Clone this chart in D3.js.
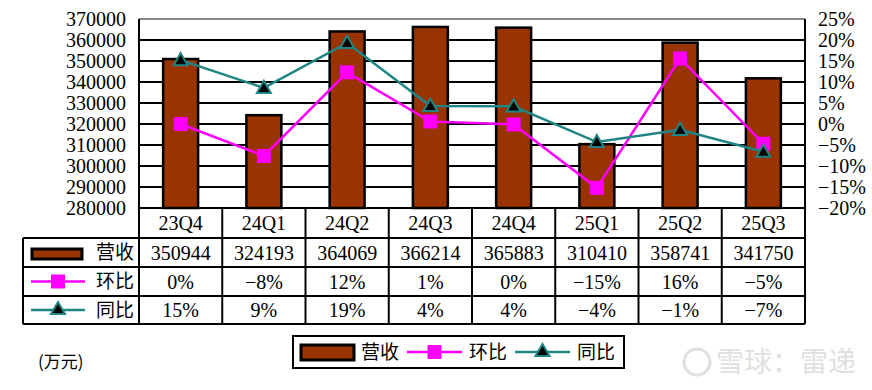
<!DOCTYPE html>
<html>
<head>
<meta charset="utf-8">
<script src="https://cdn.jsdelivr.net/npm/d3@7"></script>
<style>
  body { margin: 0; background: #fff; }
  text { font-family: "Liberation Serif", "Noto Sans CJK SC", serif; }
</style>
</head>
<body>
<script>
'use strict';

const categories = ["23Q4", "24Q1", "24Q2", "24Q3", "24Q4", "25Q1", "25Q2", "25Q3"];
const revenue = [350944, 324193, 364069, 366214, 365883, 310410, 358741, 341750];
// 环比 / 同比 as plotted (fractions)
const qoq = [0.000, -0.076, 0.123, 0.006, -0.001, -0.152, 0.156, -0.047];
const yoy = [0.152, 0.086, 0.193, 0.043, 0.042, -0.043, -0.014, -0.066];
// table text
const qoqLabels = ["0%", "−8%", "12%", "1%", "0%", "−15%", "16%", "−5%"];
const yoyLabels = ["15%", "9%", "19%", "4%", "4%", "−4%", "−1%", "−7%"];
const leftTicks = [280000, 290000, 300000, 310000, 320000, 330000, 340000, 350000, 360000, 370000];
const rightTicks = [-0.20, -0.15, -0.10, -0.05, 0, 0.05, 0.10, 0.15, 0.20, 0.25];

(function() {
  const W = 872, H = 390;
  const pL = 139, pR = 805, pT = 19, pB = 208;
  const barColor = "#993300", qoqColor = "#ff00ff", yoyColor = "#1f8585";
  const fs = "20px";

  const svg = d3.select("body").append("svg")
    .attr("width", W).attr("height", H);

  const x = d3.scaleBand().domain(categories).range([pL, pR]);
  const yL = d3.scaleLinear().domain([280000, 370000]).range([pB, pT]);
  const yR = d3.scaleLinear().domain([-0.20, 0.25]).range([pB, pT]);
  const cx = d => x(d) + x.bandwidth() / 2;

  // gridlines
  svg.append("g").selectAll("line")
    .data(leftTicks.slice(1))
    .enter().append("line")
      .attr("x1", pL).attr("x2", pR)
      .attr("y1", d => yL(d)).attr("y2", d => yL(d))
      .attr("stroke", d => d === 370000 ? "#888" : "#000")
      .attr("stroke-width", 2);

  // axes
  const gl = svg.append("g")
    .attr("transform", `translate(${pL},0)`)
    .call(d3.axisLeft(yL).tickValues(leftTicks).tickSize(0).tickPadding(13)
      .tickFormat(d3.format("d")));
  gl.select(".domain").remove();
  gl.selectAll("text").style("font-size", fs).attr("fill", "#000")
    .style("font-family", "'Liberation Serif', serif");

  const gr = svg.append("g")
    .attr("transform", `translate(${pR},0)`)
    .call(d3.axisRight(yR).tickValues(rightTicks).tickSize(0).tickPadding(13)
      .tickFormat(d3.format(".0%")));
  gr.select(".domain").remove();
  gr.selectAll("text").style("font-size", fs).attr("fill", "#000")
    .style("font-family", "'Liberation Serif', serif");

  // plot side borders
  svg.append("line").attr("x1", pL).attr("x2", pL).attr("y1", pT).attr("y2", pB)
    .attr("stroke", "#000").attr("stroke-width", 2);
  svg.append("line").attr("x1", pR).attr("x2", pR).attr("y1", pT).attr("y2", pB)
    .attr("stroke", "#000").attr("stroke-width", 2);

  // bars
  const bw = x.bandwidth() * 0.42;
  svg.append("g").selectAll("rect")
    .data(categories)
    .enter().append("rect")
      .attr("x", d => cx(d) - bw / 2)
      .attr("y", (d, i) => yL(revenue[i]))
      .attr("width", bw)
      .attr("height", (d, i) => pB - yL(revenue[i]))
      .attr("fill", barColor)
      .attr("stroke", "#000")
      .attr("stroke-width", 2.5);

  // lines
  function drawLine(vals, color) {
    svg.append("path")
      .datum(categories)
      .attr("fill", "none")
      .attr("stroke", color)
      .attr("stroke-width", 2.5)
      .attr("d", d3.line().x(d => cx(d)).y((d, i) => yR(vals[i])));
  }
  drawLine(qoq, qoqColor);
  svg.append("g").selectAll("rect")
    .data(categories)
    .enter().append("rect")
      .attr("x", d => cx(d) - 7)
      .attr("y", (d, i) => yR(qoq[i]) - 7)
      .attr("width", 14).attr("height", 14)
      .attr("fill", qoqColor);

  drawLine(yoy, yoyColor);
  const tri = d3.symbol().type(d3.symbolTriangle).size(85);
  svg.append("g").selectAll("path")
    .data(categories)
    .enter().append("path")
      .attr("transform", (d, i) => `translate(${cx(d)},${yR(yoy[i]) + 1})`)
      .attr("d", tri)
      .attr("fill", "#000")
      .attr("stroke", yoyColor)
      .attr("stroke-width", 2);

  // data table
  const rows = [pB, 238, 267, 296, 324];
  const tLeft = 23;
  const tbl = svg.append("g");
  tbl.append("line").attr("x1", pL).attr("x2", pR).attr("y1", rows[0]).attr("y2", rows[0]);
  rows.slice(1).forEach(r => {
    tbl.append("line").attr("x1", tLeft).attr("x2", pR).attr("y1", r).attr("y2", r);
  });
  tbl.append("line").attr("x1", tLeft).attr("x2", tLeft).attr("y1", rows[1]).attr("y2", rows[4]);
  categories.concat(["end"]).forEach((d, i) => {
    const xx = i < categories.length ? x(d) : pR;
    tbl.append("line").attr("x1", xx).attr("x2", xx).attr("y1", rows[0]).attr("y2", rows[4]);
  });
  tbl.selectAll("line").attr("stroke", "#000").attr("stroke-width", 2);

  const rowText = [categories, revenue.map(String), qoqLabels, yoyLabels];
  rowText.forEach((arr, r) => {
    tbl.append("g").selectAll("text")
      .data(arr)
      .enter().append("text")
        .attr("x", (d, i) => cx(categories[i]))
        .attr("y", (rows[r] + rows[r + 1]) / 2)
        .attr("dy", "0.35em")
        .attr("text-anchor", "middle")
        .style("font-size", fs)
        .text(d => d);
  });

  // row headers (legend keys)
  function barKey(g, x0, y0, w, h) {
    g.append("rect").attr("x", x0).attr("y", y0).attr("width", w).attr("height", h)
      .attr("fill", barColor).attr("stroke", "#000").attr("stroke-width", 3);
  }
  function qoqKey(g, x0, x1, y0) {
    g.append("line").attr("x1", x0).attr("x2", x1).attr("y1", y0).attr("y2", y0)
      .attr("stroke", qoqColor).attr("stroke-width", 2.5);
    g.append("rect").attr("x", (x0 + x1) / 2 - 7).attr("y", y0 - 7)
      .attr("width", 14).attr("height", 14).attr("fill", qoqColor);
  }
  function yoyKey(g, x0, x1, y0) {
    g.append("line").attr("x1", x0).attr("x2", x1).attr("y1", y0).attr("y2", y0)
      .attr("stroke", yoyColor).attr("stroke-width", 2.5);
    g.append("path").attr("transform", `translate(${(x0 + x1) / 2},${y0})`)
      .attr("d", tri).attr("fill", "#000").attr("stroke", yoyColor).attr("stroke-width", 2);
  }
  function keyText(g, x0, y0, t) {
    g.append("text").attr("x", x0).attr("y", y0).attr("dy", "0.35em")
      .style("font-size", "19px")
      .style("font-family", "'Noto Sans CJK SC', sans-serif")
      .text(t);
  }
  const hdr = svg.append("g");
  barKey(hdr, 32, 249, 50, 10);
  keyText(hdr, 96, (rows[1] + rows[2]) / 2, "营收");
  qoqKey(hdr, 31, 85, (rows[2] + rows[3]) / 2);
  keyText(hdr, 96, (rows[2] + rows[3]) / 2, "环比");
  yoyKey(hdr, 31, 85, (rows[3] + rows[4]) / 2);
  keyText(hdr, 96, (rows[3] + rows[4]) / 2, "同比");

  // bottom legend
  const lg = svg.append("g");
  lg.append("rect").attr("x", 293).attr("y", 336).attr("width", 331).attr("height", 32)
    .attr("fill", "#fff").attr("stroke", "#000").attr("stroke-width", 2);
  barKey(lg, 301, 345, 53, 15);
  keyText(lg, 361, 352, "营收");
  qoqKey(lg, 407, 462, 352);
  keyText(lg, 469, 352, "环比");
  yoyKey(lg, 515, 570, 352);
  keyText(lg, 577, 352, "同比");

  // unit
  svg.append("text").attr("x", 38).attr("y", 362).attr("dy", "0.35em")
    .style("font-size", "17px")
    .style("font-family", "'Noto Sans CJK SC', sans-serif")
    .text("(万元)");

  // watermark
  const wm = svg.append("g").attr("opacity", 0.45);
  wm.append("circle").attr("cx", 697).attr("cy", 362).attr("r", 13)
    .attr("fill", "none").attr("stroke", "#bbb").attr("stroke-width", 3);
  wm.append("text").attr("x", 716).attr("y", 362).attr("dy", "0.35em")
    .style("font-size", "28px").attr("fill", "#bbb")
    .style("font-family", "'Noto Sans CJK SC', sans-serif")
    .text("雪球：雷递");
})();
</script>
</body>
</html>
